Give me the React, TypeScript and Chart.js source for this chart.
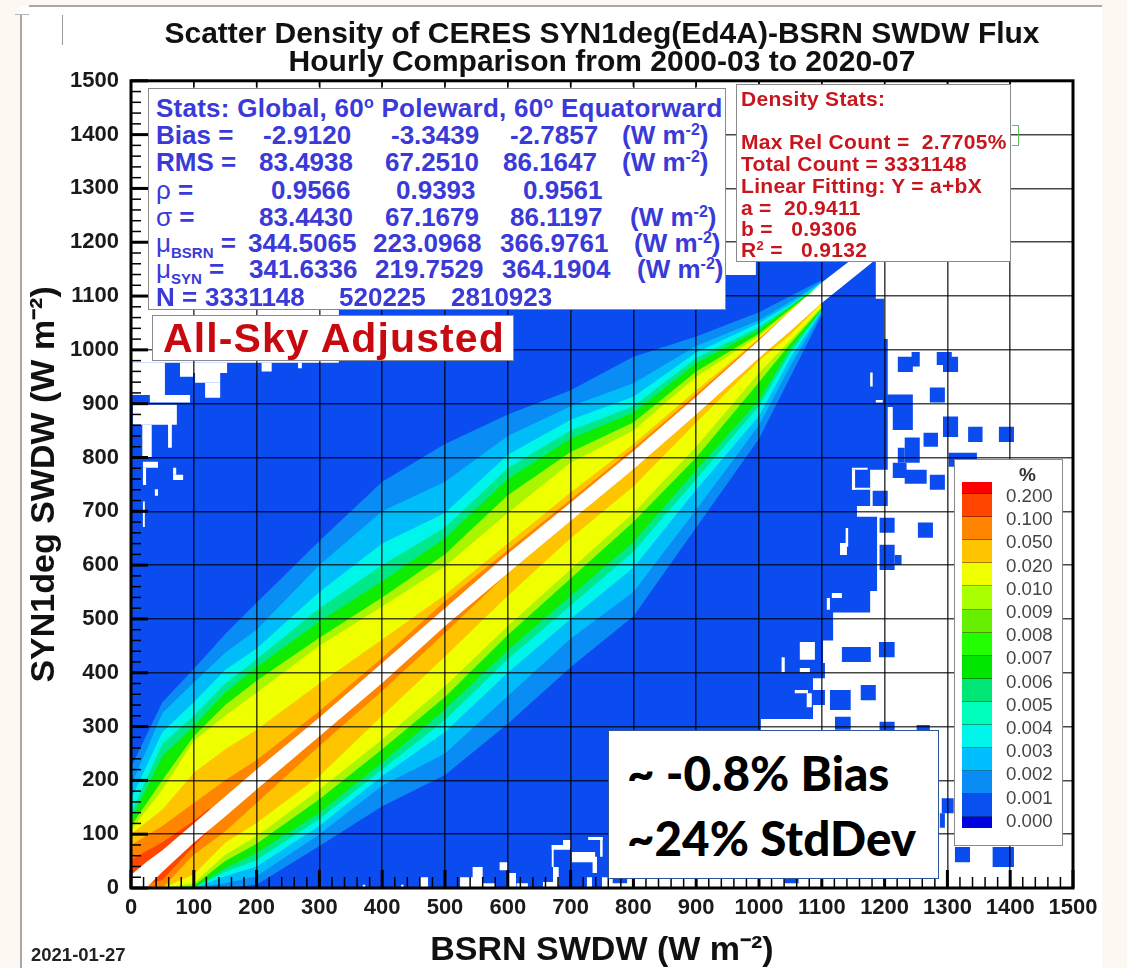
import React, { useEffect, useRef } from "react";
import { Chart, registerables } from "chart.js";

Chart.register(...registerables);

// ---------- density band edges (W m-2) ----------
const columnsX = [0, 50, 100, 150, 200, 300, 400, 500, 600, 700, 800, 900, 1000, 1050, 1100];

const skyUp = [225, 345, 407, 472, 530, 645, 755, 825, 880, 925, 987, 1025, 1070, 1100, 1130];
const azureUp = [190, 325, 382, 437, 480, 600, 700, 755, 840, 895, 938, 1007, 1055, 1090, 1127];
const cyanUp = [165, 290, 345, 405, 445, 550, 640, 697, 805, 870, 913, 995, 1050, 1085, 1125];
const mintUp = [140, 268, 320, 380, 425, 520, 600, 670, 780, 850, 895, 985, 1042, 1082, 1124];
const greenUp = [127, 245, 301, 363, 410, 495, 570, 650, 760, 835, 883, 975, 1037, 1080, 1123];
const limeUp = [115, 200, 282, 340, 385, 465, 540, 620, 730, 810, 865, 960, 1030, 1076, 1122];
const yellowUp = [108, 183, 273, 320, 363, 450, 523, 598, 697, 790, 850, 950, 1026, 1074, 1122];
const goldUp = [100, 146, 214, 258, 294, 380, 462, 545, 640, 735, 825, 925, 1021, 1073, 1122];
const orangeUp = [80, 115, 158, 200, 238, 329, 428, 533, 628, 722, 817, 918, 1020, 1072, 1122];

const skyDown = [0, 0, 0, 0, 6, 78, 152, 210, 305, 410, 505, 670, 835, 950, 1065];
const azureDown = [0, 0, 0, 9, 22, 100, 190, 250, 357, 463, 550, 703, 860, 970, 1070];
const cyanDown = [0, 0, 0, 22, 40, 115, 208, 290, 400, 500, 595, 740, 877, 985, 1072];
const mintDown = [0, 0, 0, 30, 52, 128, 220, 312, 425, 525, 625, 760, 895, 995, 1074];
const greenDown = [0, 0, 0, 37, 65, 140, 233, 332, 442, 543, 643, 777, 907, 1003, 1075];
const limeDown = [0, 0, 4, 50, 82, 165, 258, 355, 470, 575, 680, 800, 940, 1012, 1078];
const yellowDown = [0, 0, 9, 62, 96, 183, 276, 375, 487, 592, 697, 820, 957, 1018, 1080];
const goldDown = [0, 0, 25, 84, 121, 208, 320, 430, 543, 650, 746, 865, 980, 1028, 1086];
const orangeDown = [0, 0, 62, 105, 158, 264, 366, 474, 585, 682, 778, 880, 985, 1035, 1087];

const redX = [0, 50, 100, 125];
const redUp = [53, 85, 125, 148];
const redDown = [0, 15, 78, 108];

const stripeX = [0, 24, 50, 100, 150, 200, 300, 400, 500, 600, 700, 800, 900, 1000, 1050, 1100, 1186];
const stripeUp = [24, 48, 70, 120, 170, 220, 317, 418, 520, 621, 716, 812, 913, 1018, 1072, 1125, 1203];
const stripeDown = [-24, 0, 30, 84, 133, 183, 282, 381, 487, 585, 682, 778, 880, 985, 1035, 1087, 1168];

// Outline of the populated (lowest density) region
const populatedX = [0, 0, 331, 331, 995, 995, 1186, 1186, 1199, 1199, 1205, 1205, 1177, 1177, 1156, 1156, 1188, 1188, 1177, 1177, 1118, 1118, 1102, 1102, 1086, 1086, 1003, 1003, 750, 750];
const populatedY = [0, 976, 976, 1139, 1139, 1165, 1165, 1095, 1095, 1020, 1020, 777, 777, 710, 710, 690, 690, 552, 552, 512, 512, 460, 460, 400, 400, 314, 314, 20, 20, 0];

// Isolated occupied cells and empty cells: [xMin, xMax, yMin, yMax]
const occupiedCells = [
  [1243, 1256, 969, 996], [1221, 1245, 959, 987], [1283, 1307, 972, 996], [1293, 1317, 959, 987],
  [1272, 1296, 902, 930], [1204, 1245, 894, 917], [1213, 1245, 851, 894], [1293, 1317, 838, 876],
  [1333, 1356, 829, 857], [1382, 1406, 829, 857], [1262, 1285, 820, 846], [1232, 1256, 790, 837],
  [1221, 1232, 790, 818], [1302, 1347, 783, 809], [1213, 1235, 762, 790], [1232, 1267, 751, 777],
  [1272, 1296, 740, 768], [1181, 1205, 710, 738], [1192, 1216, 660, 688], [1253, 1277, 651, 679],
  [1192, 1216, 591, 638], [1216, 1227, 600, 619], [1191, 1216, 429, 457], [1132, 1178, 420, 448],
  [1162, 1186, 349, 377], [1113, 1146, 331, 368], [1084, 1105, 390, 418], [1084, 1105, 340, 368],
  [1121, 1146, 294, 318], [1192, 1216, 290, 309], [1251, 1272, 284, 303], [1291, 1310, 139, 167],
  [1288, 1296, 112, 139], [1312, 1336, 48, 76], [1372, 1406, 39, 76], [1041, 1063, 9, 18], [767, 790, 9, 18],
];
const emptyCells = [
  [0, 54, 916, 976], [30, 94, 902, 916], [78, 99, 950, 976], [99, 153, 957, 976], [102, 142, 939, 957],
  [118, 142, 911, 939], [3, 73, 861, 898], [18, 33, 801, 861], [59, 65, 818, 876], [19, 43, 781, 792],
  [19, 24, 749, 781], [67, 83, 758, 768], [67, 72, 768, 781], [38, 43, 729, 741], [19, 22, 671, 718],
  [208, 224, 960, 976], [266, 272, 966, 976],
  [1177, 1181, 932, 958], [1186, 1197, 902, 907], [1148, 1153, 740, 777], [1148, 1173, 777, 781],
  [1148, 1177, 740, 744], [1129, 1140, 619, 641], [1138, 1142, 634, 669], [1116, 1132, 539, 548],
  [1108, 1113, 517, 539], [1065, 1089, 424, 457], [1036, 1041, 401, 429], [1065, 1081, 401, 409],
  [1057, 1078, 362, 368], [1076, 1084, 336, 362],
  [670, 699, 71, 80], [670, 673, 39, 80], [672, 681, 6, 39], [688, 700, 74, 89], [702, 739, 48, 67],
  [735, 742, 28, 58], [728, 751, 89, 95], [747, 751, 58, 95], [544, 560, 6, 39], [524, 560, 0, 20],
  [587, 600, 33, 48], [599, 613, 0, 28], [614, 632, 0, 9], [460, 473, 0, 20], [560, 580, 0, 9],
  [726, 734, 0, 20], [656, 680, 0, 11], [369, 373, 2, 6], [430, 434, 2, 6],
];
const originCell = [0, 20, 0, 20];

// ---------- text ----------
const titleLines = ["Scatter Density of CERES SYN1deg(Ed4A)-BSRN SWDW Flux", "Hourly Comparison from 2000-03 to 2020-07"];
const xTitle = "BSRN SWDW (W m⁻²)";
const yTitle = "SYN1deg SWDW (W m⁻²)";
const bias = ["-2.9120", "-3.3439", "-2.7857"];
const rms = ["83.4938", "67.2510", "86.1647"];
const rho = ["0.9566", "0.9393", "0.9561"];
const sigma = ["83.4430", "67.1679", "86.1197"];
const muBsrn = ["344.5065", "223.0968", "366.9761"];
const muSyn = ["341.6336", "219.7529", "364.1904"];
const counts = ["3331148", "520225", "2810923"];
const legendLevels = ["0.200", "0.100", "0.050", "0.020", "0.010", "0.009", "0.008", "0.007", "0.006", "0.005", "0.004", "0.003", "0.002", "0.001", "0.000"];
const legendColours = ["#ff0000", "#ff4500", "#ff8500", "#ffc400", "#efff00", "#aaff00", "#66f000", "#22ff00", "#00e600", "#00e676", "#00ffbb", "#00f5ea", "#00bfff", "#0a8cf5", "#0a50f0", "#0000e0"];

const FONT = '"Liberation Sans", Arial, sans-serif';

const polygon = (xs: number[], up: number[], down: number[]) => [
  ...xs.map((x, i) => ({ x, y: up[i] })),
  ...xs.map((x, i) => ({ x, y: down[i] })).reverse(),
];
const cellsToPoints = (cells: number[][]) =>
  cells.flatMap(([x0, x1, y0, y1]) => [
    { x: x0, y: y0 }, { x: x1, y: y0 }, { x: x1, y: y1 }, { x: x0, y: y1 }, { x: NaN, y: NaN },
  ]);

const area = (data: any[], color: string) => ({
  data,
  backgroundColor: color,
  borderWidth: 0,
  showLine: true,
  fill: "shape",
  pointRadius: 0,
  spanGaps: false,
});

const framePlugin = {
  id: "frameTicks",
  afterDraw(chart: any) {
    const { ctx, chartArea: a, scales } = chart;
    ctx.save();
    ctx.strokeStyle = "#000";
    for (let v = 0; v <= 1500; v += 20) {
      const major = v % 100 === 0;
      const y = scales.y.getPixelForValue(v);
      ctx.lineWidth = major ? 3 : 1.5;
      ctx.beginPath();
      ctx.moveTo(a.left, y);
      ctx.lineTo(a.left + (major ? 17 : 10), y);
      ctx.stroke();
      const x = scales.x.getPixelForValue(v);
      ctx.beginPath();
      ctx.moveTo(x, a.bottom);
      ctx.lineTo(x, a.bottom - (major ? 18 : 11));
      ctx.stroke();
      if (major) {
        ctx.lineWidth = 1.5;
        ctx.beginPath();
        ctx.moveTo(x, a.top);
        ctx.lineTo(x, a.top + 6);
        ctx.stroke();
      }
    }
    ctx.lineWidth = 3;
    ctx.strokeRect(a.left, a.top, a.right - a.left, a.bottom - a.top);
    ctx.restore();
  },
};

const sup16: React.CSSProperties = { fontSize: 16, lineHeight: 0, verticalAlign: 9 };
const thin: React.CSSProperties = { fontWeight: 400 };

function StatRow({ y, label, values, xs, unitX }: { y: number; label: React.ReactNode; values: string[]; xs: number[]; unitX?: number }) {
  const s: React.CSSProperties = { position: "absolute", top: y - 15, lineHeight: "30px", whiteSpace: "pre" };
  return (
    <>
      <span style={{ ...s, left: 156 }}>{label}</span>
      {values.map((v, i) => (
        <span key={i} style={{ ...s, left: xs[i] }}>{v}</span>
      ))}
      {unitX !== undefined && (
        <span style={{ ...s, left: unitX }}>(W m<sup style={sup16}>-2</sup>)</span>
      )}
    </>
  );
}

export default function App() {
  const ref = useRef<HTMLCanvasElement>(null);
  useEffect(() => {
    const chart = new Chart(ref.current as HTMLCanvasElement, {
      type: "scatter",
      data: {
        datasets: [
          area(polygon(stripeX, stripeUp, stripeDown), "#ffffff"),
          { ...area(cellsToPoints([originCell]), "#ffffff"), borderWidth: 1.5, borderColor: "#6a9a6a" },
          area(polygon(redX, redUp, redDown), "#ff4500"),
          area(polygon(columnsX, orangeUp, orangeDown), "#ff8500"),
          area(polygon(columnsX, goldUp, goldDown), "#ffc400"),
          area(polygon(columnsX, yellowUp, yellowDown), "#efff00"),
          area(polygon(columnsX, limeUp, limeDown), "#aaf500"),
          area(polygon(columnsX, greenUp, greenDown), "#10ec00"),
          area(polygon(columnsX, mintUp, mintDown), "#00e88a"),
          area(polygon(columnsX, cyanUp, cyanDown), "#00f5ea"),
          area(polygon(columnsX, azureUp, azureDown), "#00bcf8"),
          area(polygon(columnsX, skyUp, skyDown), "#0a8cf5"),
          area(cellsToPoints(emptyCells), "#ffffff"),
          area(cellsToPoints(occupiedCells), "#0a4cf0"),
          area(populatedX.map((x, i) => ({ x, y: populatedY[i] })), "#0a4cf0"),
        ] as any,
      },
      options: {
        animation: false,
        responsive: false,
        layout: { padding: { left: 0, right: 54, top: 0, bottom: 0 } },
        plugins: {
          legend: { display: false },
          tooltip: { enabled: false },
          title: {
            display: true,
            fullSize: false,
            text: titleLines,
            color: "#111",
            font: { family: FONT, size: 30, weight: "bold", lineHeight: 0.93 },
            padding: { top: 21, bottom: 4 },
          } as any,
        },
        scales: {
          x: {
            type: "linear",
            min: 0,
            max: 1500,
            afterFit: (s: any) => { s.height = 80; },
            grid: { color: "rgba(0,0,0,0.72)", lineWidth: 1.6, drawTicks: false, z: 1 },
            border: { display: false },
            ticks: { stepSize: 100, autoSkip: false, maxRotation: 0, padding: 7, color: "#1a1a1a", font: { family: FONT, size: 22, weight: "bold" }, callback: (v: any) => String(v) },
            title: { display: true, text: xTitle, color: "#111", font: { family: FONT, size: 34, weight: "bold", lineHeight: 1 }, padding: { top: 0, bottom: 0 } },
          },
          y: {
            type: "linear",
            min: 0,
            max: 1500,
            afterFit: (s: any) => { s.width = 131; },
            grid: { color: "rgba(0,0,0,0.72)", lineWidth: 1.6, drawTicks: false, z: 1 },
            border: { display: false },
            ticks: { stepSize: 100, autoSkip: false, padding: 12, color: "#1a1a1a", font: { family: FONT, size: 22, weight: "bold" }, callback: (v: any) => String(v) },
            title: { display: true, text: yTitle, color: "#111", font: { family: FONT, size: 34, weight: "bold", lineHeight: 1 }, padding: { top: 28, bottom: 0 } },
          },
        },
      } as any,
      plugins: [framePlugin],
    });
    return () => chart.destroy();
  }, []);

  const abs = (left: number, top: number, width?: number, height?: number): React.CSSProperties => ({ position: "absolute", left, top, width, height, boxSizing: "border-box" });
  const blur = "blur(0.6px)";

  return (
    <div style={{ ...abs(0, 0, 1127, 968), background: "#fdf9f2", overflow: "hidden", fontFamily: FONT }}>
      <div style={{ ...abs(20, 6, 1082, 962), background: "#ffffff" }} />
      <div style={{ ...abs(29, 5, 1073, 2), background: "#a8a8a8" }} />
      <div style={{ ...abs(20, 14, 2, 954), background: "#a8a8a8" }} />
      <div style={{ ...abs(15, 14, 14, 1), background: "#b8b8b8" }} />
      <div style={{ ...abs(62, 15, 1, 30), background: "#999" }} />

      <canvas ref={ref} width={1127} height={968} style={{ position: "absolute", left: 0, top: 0, filter: blur }} />

      <div style={{ ...abs(0, 0, 1127, 968), filter: blur }}>
        {/* blue statistics box */}
        <div style={{ ...abs(148, 88, 578, 222), background: "#fff", border: "1.5px solid #8a8a8a" }} />
        <div style={{ ...abs(0, 0, 1127, 968), color: "#3a3ad8", fontSize: 26, fontWeight: 700 }}>
          <span style={{ position: "absolute", left: 156, top: 93, lineHeight: "30px", whiteSpace: "pre", letterSpacing: 0.25 }}>
            Stats: Global, 60<sup style={sup16}>o</sup> Poleward, 60<sup style={sup16}>o</sup> Equatorward
          </span>
          <StatRow y={135} label="Bias =" values={bias} xs={[263, 391, 510]} unitX={622} />
          <StatRow y={162} label="RMS =" values={rms} xs={[259, 385, 503]} unitX={622} />
          <StatRow y={190} label={<><span style={thin}>ρ</span> =</>} values={rho} xs={[271, 396, 523]} />
          <StatRow y={217} label={<><span style={thin}>σ</span> =</>} values={sigma} xs={[259, 385, 510]} unitX={630} />
          <StatRow y={243} label={<><span style={thin}>μ</span><sub style={{ fontSize: 15, lineHeight: 0 }}>BSRN</sub> =</>} values={muBsrn} xs={[248, 373, 500]} unitX={634} />
          <StatRow y={269} label={<><span style={thin}>μ</span><sub style={{ fontSize: 15, lineHeight: 0 }}>SYN</sub> =</>} values={muSyn} xs={[249, 375, 502]} unitX={637} />
          <StatRow y={297} label="N =" values={counts} xs={[205, 339, 451]} />
        </div>

        {/* red density box */}
        <div style={{ ...abs(736, 84, 275, 178), background: "#fff", border: "1.5px solid #8a8a8a" }} />
        <div style={{ ...abs(0, 0, 1127, 968), color: "#c8161e", fontSize: 21, fontWeight: 700, letterSpacing: 0.3 }}>
          {[
            ["Density Stats:", 99],
            ["Max Rel Count =  2.7705%", 142],
            ["Total Count = 3331148", 164],
            ["Linear Fitting: Y = a+bX", 186],
            ["a =  20.9411", 208],
            ["b =   0.9306", 229],
          ].map(([t, y]) => (
            <span key={t as string} style={{ position: "absolute", left: 741, top: (y as number) - 12, lineHeight: "24px", whiteSpace: "pre" }}>{t}</span>
          ))}
          <span style={{ position: "absolute", left: 741, top: 238, lineHeight: "24px", whiteSpace: "pre" }}>
            R<sup style={{ fontSize: 13, lineHeight: 0, verticalAlign: 7 }}>2</sup> =   0.9132
          </span>
        </div>
        <div style={{ ...abs(1012, 125, 7, 21), border: "1px solid #59c159", borderLeft: "none" }} />

        {/* all-sky label */}
        <div style={{ ...abs(152, 315, 362, 46), background: "#fff", border: "1.5px solid #8a8a8a" }} />
        <span style={{ position: "absolute", left: 163, top: 316, lineHeight: "44px", fontSize: 41, letterSpacing: 1.1, fontWeight: 700, color: "#c80a10", whiteSpace: "pre" }}>All-Sky Adjusted</span>

        {/* date */}
        <span style={{ position: "absolute", left: 31, top: 945, lineHeight: "20px", fontSize: 18.5, fontWeight: 700, color: "#222", whiteSpace: "pre" }}>2021-01-27</span>

        {/* colour legend */}
        <div style={{ ...abs(954, 459, 109, 387), background: "#fff", border: "1.5px solid #8a8a8a" }} />
        <span style={{ position: "absolute", left: 1019, top: 464, lineHeight: "22px", fontSize: 19, fontWeight: 700, color: "#333" }}>%</span>
        <div style={{ ...abs(962, 482, 30, 346), display: "flex", flexDirection: "column" }}>
          {legendColours.map((c, i) => (
            <div key={c} style={{ background: c, flex: i === 0 || i === legendColours.length - 1 ? "12 0 0" : "23.14 0 0", borderBottom: i < legendColours.length - 1 ? "1px solid rgba(0,0,0,0.35)" : "none" }} />
          ))}
        </div>
        {legendLevels.map((l, i) => (
          <span key={l} style={{ position: "absolute", left: 1006, top: 484 + i * 23.2, lineHeight: "24px", fontSize: 18.7, color: "#444", whiteSpace: "pre" }}>{l}</span>
        ))}
      </div>

      {/* annotation box */}
      <div style={{ ...abs(608, 730, 331, 149), background: "#fff", border: "1.5px solid #2f5597" }} />
      <span style={{ position: "absolute", left: 627, top: 745, lineHeight: "56px", fontSize: 47.5, fontWeight: 900, fontFamily: "Lato, sans-serif", color: "#000", whiteSpace: "pre" }}>~ -0.8% Bias</span>
      <span style={{ position: "absolute", left: 627, top: 810, lineHeight: "56px", fontSize: 47.5, fontWeight: 900, fontFamily: "Lato, sans-serif", color: "#000", whiteSpace: "pre" }}>~24% StdDev</span>
    </div>
  );
}
